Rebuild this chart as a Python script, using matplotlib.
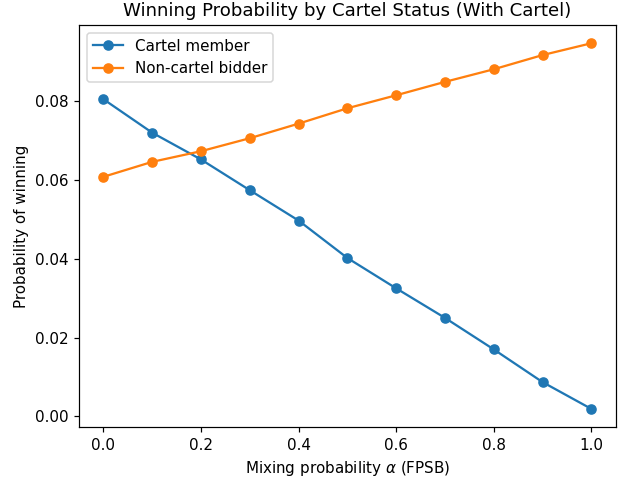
import numpy as np
import matplotlib
matplotlib.use("Agg")
import matplotlib.pyplot as plt

# mixing probability alpha
alpha = [0.0, 0.1, 0.2, 0.3, 0.4, 0.5, 0.6, 0.7, 0.8, 0.9, 1.0]

# winning probabilities
cartel_member = [0.0805, 0.0720, 0.0652, 0.0574, 0.0497, 0.0402,
                 0.0325, 0.0250, 0.0170, 0.0087, 0.0019]
non_cartel = [0.0608, 0.0646, 0.0673, 0.0706, 0.0743, 0.0782,
              0.0815, 0.0849, 0.0881, 0.0917, 0.0947]

# the reference looks like a slightly enlarged default render
dpi = 109
fig, ax = plt.subplots(figsize=(622 / dpi, 480 / dpi), dpi=dpi)
fig.subplots_adjust(left=0.127, right=0.990, top=0.948, bottom=0.110)

ax.plot(alpha, cartel_member, marker="o", label="Cartel member")
ax.plot(alpha, non_cartel, marker="o", label="Non-cartel bidder")

ax.set_xlabel(r"Mixing probability $\alpha$ (FPSB)")
ax.set_ylabel("Probability of winning")
ax.set_title("Winning Probability by Cartel Status (With Cartel)")
ax.legend(loc="upper left")

fig.savefig("out.png", dpi=dpi)
